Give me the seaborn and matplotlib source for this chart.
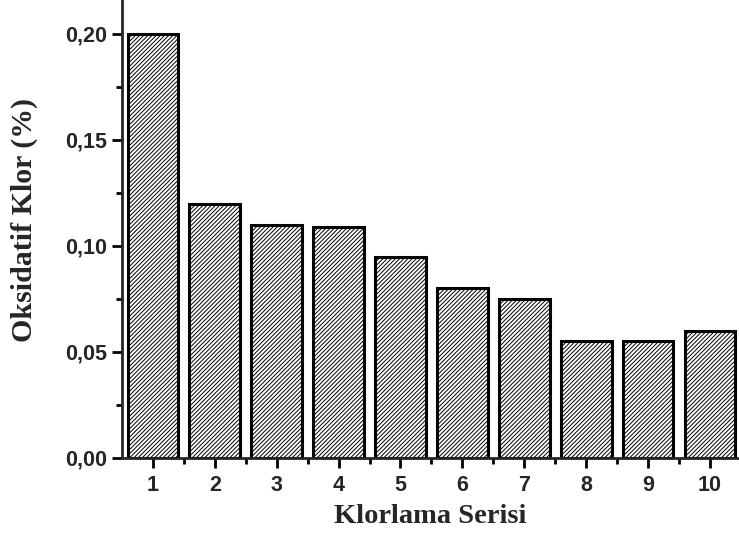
import matplotlib
matplotlib.use("Agg")
import matplotlib.pyplot as plt
import seaborn as sns
import pandas as pd
from matplotlib.ticker import MultipleLocator, FixedLocator, FuncFormatter

# values
series = [1, 2, 3, 4, 5, 6, 7, 8, 9, 10]
oksidatif_klor = [0.200, 0.120, 0.110, 0.109, 0.095, 0.080, 0.075, 0.055, 0.055, 0.060]

df = pd.DataFrame({"seri": series, "klor": oksidatif_klor})

sns.set_style("ticks")
plt.rcParams["hatch.linewidth"] = 0.7

fig = plt.figure(figsize=(7.39, 5.35), dpi=100)
ax = fig.add_axes([0.165, 0.144, 0.835, 0.856])

sns.barplot(data=df, x="seri", y="klor", native_scale=True, width=0.82,
            color="white", edgecolor="black", linewidth=2.2, ax=ax)
for p in ax.patches:
    p.set_hatch("////////")
    p.set_facecolor("white")

ax.set_xlim(0.5, 10.47)
ax.set_ylim(0, 0.216)

# axis styling
for side in ["top", "right"]:
    ax.spines[side].set_visible(False)
for side in ["left", "bottom"]:
    ax.spines[side].set_linewidth(2)

ax.xaxis.set_major_locator(FixedLocator(series))
ax.xaxis.set_minor_locator(FixedLocator([s + 0.5 for s in series[:-1]]))
ax.yaxis.set_major_locator(MultipleLocator(0.05))
ax.yaxis.set_minor_locator(MultipleLocator(0.025))
ax.yaxis.set_major_formatter(FuncFormatter(lambda v, _: f"{v:.2f}".replace(".", ",")))

ax.tick_params(which="major", direction="out", length=7, width=2, color="black")
ax.tick_params(which="minor", direction="out", length=4, width=2, color="black")
ax.tick_params(axis="x", pad=5)

for lab in ax.get_xticklabels() + ax.get_yticklabels():
    lab.set_fontfamily("Liberation Sans")
    lab.set_fontweight("bold")
    lab.set_fontsize(15.5)

ax.set_xlabel("Klorlama Serisi", fontfamily="Liberation Serif", fontweight="bold",
              fontsize=20.5, labelpad=6)
ax.set_ylabel("Oksidatif Klor (%)", fontfamily="Liberation Serif", fontweight="bold",
              fontsize=21.5, va="center")
ax.yaxis.set_label_coords(-0.158, 0.52)

fig.savefig("out.png", dpi=100)
